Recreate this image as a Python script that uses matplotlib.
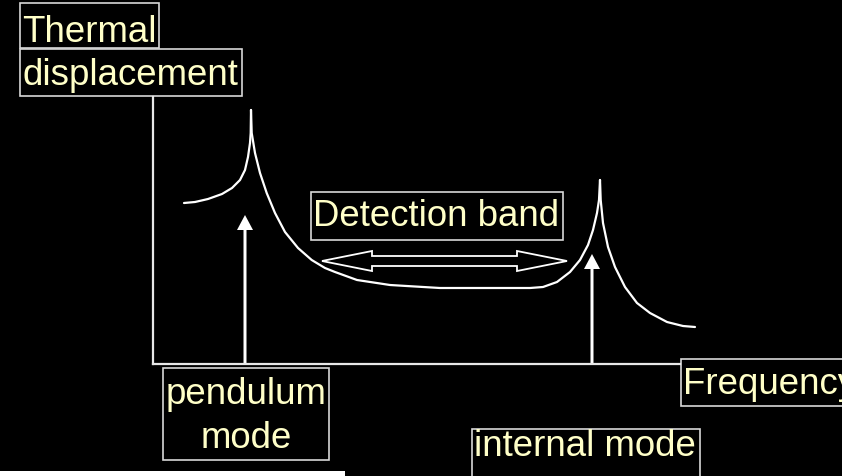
import numpy as np
import matplotlib
matplotlib.use("Agg")
import matplotlib.pyplot as plt
from matplotlib.patches import Polygon, Rectangle

plt.rcParams['font.family'] = ['Liberation Sans', 'DejaVu Sans']

# --- schematic thermal-noise curve (frequency, displacement) ---
# left flank of the pendulum peak
freq_a = [31, 42, 55, 69, 79, 87, 92, 95, 97, 97.7, 98]
disp_a = [161, 162, 165, 170, 176, 184, 194, 207, 221, 231, 254]
# from the pendulum peak down through the detection band up to the internal mode peak
freq_b = [98, 98.7, 102, 107, 113.7, 122, 132, 145, 158.7, 172, 182, 204, 237, 287,
          337, 377, 390, 404, 417, 427, 435, 440, 444, 446, 447]
disp_b = [254, 231, 211, 191, 171, 151, 132, 116, 104, 96, 92, 84, 79, 76,
          76, 76, 77, 82, 92, 104, 119, 134, 151, 164, 184]
# right flank of the internal mode peak
freq_c = [447, 447.7, 450, 455, 462, 472, 484, 497, 514, 530, 542]
disp_c = [184, 164, 141, 117, 97, 77, 61, 51, 42, 38, 37]

pendulum_f, pendulum_tip = 92, 149
internal_f, internal_tip = 439, 110
band_start, band_end, band_level = 169, 414, 103

text_col = '#FFFFC8'
line_col = 'white'
box_col = '#D8D8D8'
fs = 26.4

fig = plt.figure(figsize=(8.42, 4.76), dpi=100, facecolor='black')
ax = fig.add_axes([0, 0, 1, 1])
ax.set_facecolor('black')
ax.set_xlim(-153, 689)
ax.set_ylim(-112, 364)

# axes through the origin
for s in ['top', 'right']:
    ax.spines[s].set_visible(False)
ax.spines['left'].set_position(('data', 0))
ax.spines['bottom'].set_position(('data', 0))
ax.spines['left'].set_bounds(0, 267)
ax.spines['bottom'].set_bounds(0, 527)
for s in ['left', 'bottom']:
    ax.spines[s].set_color('#E8E8E8')
    ax.spines[s].set_linewidth(1.6)
ax.set_xticks([])
ax.set_yticks([])

# curve
for f, d in [(freq_a, disp_a), (freq_b, disp_b), (freq_c, disp_c)]:
    ax.plot(f, d, color=line_col, lw=1.6, solid_capstyle='round', solid_joinstyle='round')

# mode arrows
ax.arrow(pendulum_f, 0, 0, pendulum_tip, width=3, head_width=16, head_length=15,
         length_includes_head=True, color=line_col, lw=0)
ax.arrow(internal_f, 0, 0, internal_tip, width=3, head_width=16, head_length=15,
         length_includes_head=True, color=line_col, lw=0)

# hollow double arrow for the detection band
sw, hw, hl = 5, 10, 50
verts = [
    (band_start, band_level),
    (band_start + hl, band_level + hw),
    (band_start + hl, band_level + sw),
    (band_end - hl, band_level + sw),
    (band_end - hl, band_level + hw),
    (band_end, band_level),
    (band_end - hl, band_level - hw),
    (band_end - hl, band_level - sw),
    (band_start + hl, band_level - sw),
    (band_start + hl, band_level - hw),
]
ax.add_patch(Polygon(verts, closed=True, facecolor='black', edgecolor=line_col, lw=1.3))

# label boxes: (left, bottom, width, height) and the texts inside them
boxes = [(-133, 316, 139, 45), (-133, 268, 222, 47), (158, 124, 252, 48),
         (10, -96, 166, 92), (319, -120, 228, 55), (528, -42, 180, 47)]
for x0, y0, w, h in boxes:
    ax.add_patch(Rectangle((x0, y0), w, h, facecolor='black', edgecolor=box_col,
                           lw=1.2, clip_on=False))

labels = [('Thermal', -131, 322, 'left'),
          ('displacement', -131, 279, 'left'),
          ('Detection band', 160, 137.5, 'left'),
          ('pendulum', 93, -40, 'center'),
          ('mode', 93, -83.5, 'center'),
          ('internal mode', 321, -92.5, 'left'),
          ('Frequency', 530, -29.5, 'left')]
for txt, x, y, ha in labels:
    ax.text(x, y, txt, color=text_col, fontsize=fs, ha=ha, va='baseline', clip_on=False)

# white strip at the bottom edge
ax.add_patch(Rectangle((-153, -112), 345, 5, facecolor='white', edgecolor='none'))

fig.savefig('out.png', dpi=100, facecolor='black')
